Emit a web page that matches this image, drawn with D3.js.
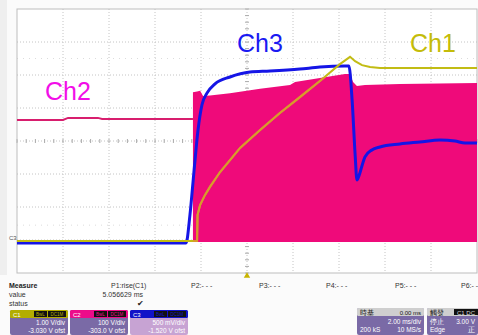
<!DOCTYPE html>
<html>
<head>
<meta charset="utf-8">
<script src="https://d3js.org/d3.v7.min.js"></script>
<style>
  body { margin: 0; background: #fbfbfb; }
  svg { display: block; font-family: "Liberation Sans", Arial, sans-serif; }
</style>
</head>
<body>
<script>
// time in ms (2 ms/div, trigger at centre), level in divisions from centre
var ch1 = [[-10,-3.03],[-2.17,-3.03],[-2.15,-2.24],[-2.04,-1.94],[-1.83,-1.64],[-1.61,-1.39],
  [-1.17,-0.94],[-0.30,-0.21],[0.57,0.33],[1.43,0.85],[2.30,1.33],[3.17,1.82],[4.04,2.33],
  [4.48,2.55],[4.70,2.42],[5.00,2.30],[5.35,2.24],[5.78,2.21],[10,2.21]];

var ch2Idle = [[-10,0.64],[-8.0,0.64],[-7.78,0.70],[-6.48,0.70],[-6.30,0.67],[-2.35,0.67]];
// envelope of the switching burst: top edge, bottom edge constant
var ch2Top = [[-2.35,1.48],[-2.17,1.50],[-2.04,1.52],[-1.91,1.36],[-1.61,1.38],[-0.74,1.45],
  [0.57,1.58],[1.87,1.70],[2.09,1.79],[3.17,1.91],[4.26,2.03],[4.48,2.03],[4.61,1.79],
  [4.78,1.67],[5.13,1.70],[6.65,1.73],[10,1.76]];
var ch2Bottom = -3.06;

var ch3 = [[-10,-3.09],[-2.65,-3.09],[-2.48,-2.24],[-2.30,-0.88],[-2.13,0.33],[-1.96,1.09],
  [-1.74,1.45],[-1.39,1.73],[-0.74,1.94],[0.13,2.09],[1.00,2.12],[2.30,2.18],[3.17,2.24],
  [4.26,2.27],[4.43,2.27],[4.57,1.24],[4.70,-0.40],[4.78,-1.18],[4.87,-1.05],[5.00,-0.75],
  [5.13,-0.48],[5.43,-0.27],[5.78,-0.18],[6.65,-0.09],[7.52,-0.03],[8.39,0.03],[9.04,0.00],[9.48,-0.06],[10,-0.06]];

var measureLabels = ["P1:rise(C1)", "P2:- - -", "P3:- - -", "P4:- - -", "P5:- - -", "P6:- - -"];
var channels = [
  {name: "C1", bar: "#b3ad00", body: "#7a6aa6", scale: "1.00 V/div", ofst: "-3.030 V ofst"},
  {name: "C2", bar: "#ec0c8a", body: "#7a6aa6", scale: "100 V/div", ofst: "-303.0 V ofst"},
  {name: "C3", bar: "#1212c8", body: "#c7a3d3", scale: "500 mV/div", ofst: "-1.520 V ofst"}
];

var W = 478, H = 335;
var svg = d3.select("body").append("svg").attr("width", W).attr("height", H);

var x = d3.scaleLinear().domain([-10, 10]).range([17, 477]);
var y = d3.scaleLinear().domain([-4, 4]).range([273, 9]);

// left strip
svg.append("rect").attr("x", 0).attr("y", 0).attr("width", 7).attr("height", 275).attr("fill", "#efefef");
svg.append("rect").attr("x", 17).attr("y", 9).attr("width", 460).attr("height", 264).attr("fill", "#fff");

/* grid */
var g = svg.append("g");
d3.range(-8, 10, 2).forEach(function (t) {
  g.append("line").attr("x1", x(t)).attr("x2", x(t)).attr("y1", y(4)).attr("y2", y(-4))
    .attr("stroke", "#c4c4c4").attr("stroke-dasharray", "1,2");
});
d3.range(-3, 4).forEach(function (v) {
  g.append("line").attr("x1", x(-10)).attr("x2", x(10)).attr("y1", y(v)).attr("y2", y(v))
    .attr("stroke", "#c4c4c4").attr("stroke-dasharray", "1,2");
});
// faint cursor lines
[2.5, -2.55].forEach(function (v) {
  g.append("line").attr("x1", x(-10)).attr("x2", x(10)).attr("y1", y(v)).attr("y2", y(v))
    .attr("stroke", "#dcdcdc").attr("stroke-dasharray", "1,5");
});
// centre ticks
d3.range(-10, 10.01, 0.4).forEach(function (t) {
  g.append("line").attr("x1", x(t)).attr("x2", x(t)).attr("y1", y(0) - 2).attr("y2", y(0) + 2)
    .attr("stroke", "#aaa");
});
d3.range(-4, 4.01, 0.2).forEach(function (v) {
  g.append("line").attr("x1", x(0) - 2).attr("x2", x(0) + 2).attr("y1", y(v)).attr("y2", y(v))
    .attr("stroke", "#aaa");
});
g.append("rect").attr("x", x(-10)).attr("y", y(4)).attr("width", x(10) - x(-10)).attr("height", y(-4) - y(4))
  .attr("fill", "none").attr("stroke", "#bdbdbd");

/* traces */
var line = d3.line().curve(d3.curveMonotoneX)
  .x(function (d) { return x(d[0]); }).y(function (d) { return y(d[1]); });
var lineSharp = d3.line().x(function (d) { return x(d[0]); }).y(function (d) { return y(d[1]); });
var area = d3.area().x(function (d) { return x(d[0]); })
  .y0(y(ch2Bottom)).y1(function (d) { return y(d[1]); });

svg.append("clipPath").attr("id", "burst").append("path").attr("d", area(ch2Top));

svg.append("path").attr("d", lineSharp(ch2Idle)).attr("fill", "none").attr("stroke", "#d81e6e").attr("stroke-width", 2);
svg.append("path").attr("d", area(ch2Top)).attr("fill", "#ef0a7a");
svg.append("path").attr("d", line(ch3)).attr("fill", "none").attr("stroke", "#1515e6").attr("stroke-width", 3);
svg.append("path").attr("d", lineSharp(ch1)).attr("fill", "none").attr("stroke", "#c2bc14").attr("stroke-width", 2);
// where Ch1 overlays the burst it shows orange
svg.append("path").attr("d", lineSharp(ch1)).attr("fill", "none").attr("stroke", "#d9982e").attr("stroke-width", 2)
  .attr("clip-path", "url(#burst)");

/* channel names */
svg.append("text").attr("x", 45).attr("y", 100).attr("font-size", 25).attr("fill", "#f20ee8").text("Ch2");
svg.append("text").attr("x", 237).attr("y", 52).attr("font-size", 25).attr("fill", "#1a1af2").text("Ch3");
svg.append("text").attr("x", 410).attr("y", 52).attr("font-size", 25).attr("fill", "#c4bc0a").text("Ch1");

svg.append("text").attr("x", 9).attr("y", 240).attr("font-size", 6).attr("fill", "#555").text("C3");

// trigger marker
svg.append("path").attr("d", d3.symbol(d3.symbolTriangle, 18)())
  .attr("transform", "translate(" + x(0) + ",276)").attr("fill", "#c8b400");

/* measure panel */
var fs = 7;
svg.append("text").attr("x", 9).attr("y", 288).attr("font-size", fs).attr("font-weight", "bold").attr("fill", "#222").text("Measure");
svg.append("text").attr("x", 9).attr("y", 297).attr("font-size", fs).attr("fill", "#333").text("value");
svg.append("text").attr("x", 9).attr("y", 306).attr("font-size", fs).attr("fill", "#333").text("status");
var px = [111, 191, 259, 326, 395, 461];
measureLabels.forEach(function (d, i) {
  svg.append("text").attr("x", px[i]).attr("y", 288).attr("font-size", fs).attr("fill", "#333").text(d);
});
svg.append("text").attr("x", 143).attr("y", 297).attr("text-anchor", "end").attr("font-size", fs).attr("fill", "#333").text("5.056629 ms");
svg.append("text").attr("x", 137).attr("y", 306).attr("font-size", 8).attr("fill", "#222").text("\u2714");

/* channel boxes */
channels.forEach(function (c, i) {
  var bx = 10 + i * 60, bw = 58;
  svg.append("rect").attr("x", bx).attr("y", 310).attr("width", bw).attr("height", 25).attr("rx", 2).attr("fill", c.body);
  svg.append("rect").attr("x", bx).attr("y", 310).attr("width", bw).attr("height", 8).attr("rx", 1.5).attr("fill", c.bar);
  svg.append("text").attr("x", bx + 3).attr("y", 316.5).attr("font-size", 6).attr("fill", "#fff").text(c.name);
  svg.append("rect").attr("x", bx + 24).attr("y", 311).attr("width", 13).attr("height", 6).attr("fill", "#111");
  svg.append("rect").attr("x", bx + 38).attr("y", 311).attr("width", 18).attr("height", 6).attr("fill", "#111");
  svg.append("text").attr("x", bx + 30.5).attr("y", 316).attr("text-anchor", "middle").attr("font-size", 4.5).attr("fill", c.bar).text("BwL");
  svg.append("text").attr("x", bx + 47).attr("y", 316).attr("text-anchor", "middle").attr("font-size", 4.5).attr("fill", c.bar).text("DC1M");
  svg.append("text").attr("x", bx + bw - 3).attr("y", 325).attr("text-anchor", "end").attr("font-size", 6.5).attr("fill", "#fff").text(c.scale);
  svg.append("text").attr("x", bx + bw - 3).attr("y", 333).attr("text-anchor", "end").attr("font-size", 6.5).attr("fill", "#fff").text(c.ofst);
});

/* timebase + trigger boxes */
function infoBox(bx, bw, title, titleRight, row1, row2L, row2R, dark) {
  svg.append("rect").attr("x", bx).attr("y", 308).attr("width", bw).attr("height", 27).attr("rx", 2).attr("fill", "#7a6aa6");
  svg.append("rect").attr("x", bx).attr("y", 308).attr("width", bw).attr("height", 8).attr("rx", 1.5).attr("fill", "#cfcfcf");
  svg.append("text").attr("x", bx + 3).attr("y", 315).attr("font-size", 6.5).attr("fill", "#111").text(title);
  if (dark) svg.append("rect").attr("x", bx + bw - 24).attr("y", 309).attr("width", 24).attr("height", 6).attr("fill", "#111");
  svg.append("text").attr("x", bx + bw - 3).attr("y", 315).attr("text-anchor", "end").attr("font-size", 6).attr("fill", dark ? "#ddd" : "#111").text(titleRight);
  svg.append("text").attr("x", bx + 3).attr("y", 324).attr("font-size", 6.5).attr("fill", "#fff").text(row1[0]);
  svg.append("text").attr("x", bx + bw - 3).attr("y", 324).attr("text-anchor", "end").attr("font-size", 6.5).attr("fill", "#fff").text(row1[1]);
  svg.append("text").attr("x", bx + 3).attr("y", 332).attr("font-size", 6.5).attr("fill", "#fff").text(row2L);
  svg.append("text").attr("x", bx + bw - 3).attr("y", 332).attr("text-anchor", "end").attr("font-size", 6.5).attr("fill", "#fff").text(row2R);
}
infoBox(357, 67, "時基", "0.00 ms", ["", "2.00 ms/div"], "200 kS", "10 MS/s", false);
infoBox(427, 51, "觸發", "C1 DC", ["停止", "3.00 V"], "Edge", "正", true);
</script>
</body>
</html>
